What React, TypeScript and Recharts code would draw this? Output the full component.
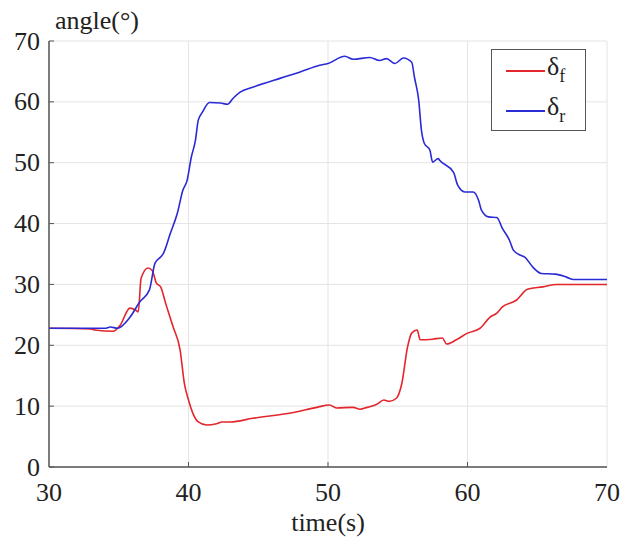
import { CartesianGrid, Legend, Line, LineChart, XAxis, YAxis } from 'recharts'

// δf (front wheel angle) samples
const fTime = [30, 33.0, 33.3, 34.6, 35.1, 35.8, 36.2, 36.4, 36.6, 37.1, 37.4, 37.7, 38.0, 38.4, 38.9, 39.4, 39.7, 40.0, 40.3, 40.7, 41.3, 42.0, 42.4, 43.0, 44.6, 47.1, 49.2, 50.1, 50.6, 51.8, 52.3, 52.8, 53.5, 54.0, 54.4, 54.9, 55.3, 55.7, 56.0, 56.4, 56.6, 57.5, 58.2, 58.5, 59.2, 60.0, 60.9, 61.6, 62.1, 62.5, 63.5, 64.3, 65.4, 66.4, 70]
const fAngle = [22.8, 22.7, 22.5, 22.3, 23.3, 26.1, 25.8, 25.5, 31.0, 32.7, 32.3, 30.2, 29.6, 26.6, 23.0, 19.2, 13.8, 11.0, 8.9, 7.4, 6.9, 7.1, 7.4, 7.4, 8.0, 8.8, 9.8, 10.2, 9.7, 9.8, 9.5, 9.8, 10.3, 11.0, 10.8, 11.3, 13.8, 19.7, 22.0, 22.5, 20.9, 21.0, 21.2, 20.2, 20.9, 22.0, 22.8, 24.6, 25.3, 26.3, 27.4, 29.2, 29.6, 30.0, 30.0]

// δr (rear wheel angle)
const rTime = [30, 34.0, 34.4, 34.9, 35.8, 36.5, 37.2, 37.6, 38.0, 38.2, 38.7, 39.2, 39.6, 39.9, 40.2, 40.5, 40.7, 41.0, 41.5, 42.3, 42.8, 43.2, 43.7, 44.6, 46.6, 48.0, 49.4, 50.0, 51.2, 51.8, 53.0, 53.7, 54.2, 54.8, 55.4, 56.0, 56.2, 56.5, 56.7, 56.9, 57.3, 57.5, 57.9, 58.0, 59.0, 59.3, 59.8, 60.4, 60.8, 61.0, 61.5, 62.1, 62.5, 63.0, 63.3, 63.8, 64.1, 64.7, 65.3, 66.3, 67.1, 67.6, 70]
const rAngle = [22.8, 22.8, 23.0, 22.8, 24.6, 27.1, 29.1, 33.5, 34.5, 35.1, 38.4, 41.7, 45.5, 47.1, 50.9, 53.7, 57.0, 58.3, 59.9, 59.8, 59.6, 60.6, 61.6, 62.4, 63.9, 64.9, 66.0, 66.3, 67.5, 67.0, 67.3, 66.8, 67.1, 66.3, 67.2, 66.5, 64.0, 60.3, 55.3, 53.2, 52.1, 50.1, 50.7, 50.4, 48.4, 46.3, 45.2, 45.2, 43.8, 42.2, 41.1, 41.0, 39.2, 37.3, 35.6, 34.8, 34.5, 32.8, 31.8, 31.7, 31.2, 30.8, 30.8]

const xTicks = [30, 40, 50, 60, 70]
const yTicks = [0, 10, 20, 30, 40, 50, 60, 70]

const FONT = "'Liberation Serif', 'Times New Roman', Tinos, 'DejaVu Serif', serif"
const RED = '#e3262b'
const BLUE = '#2a2ad6'
const AXIS = '#555'

const toRows = (ts: number[], vs: number[]) => ts.map((t, i) => ({ t, v: vs[i] }))

const YTick = ({ x, y, payload }: any) => (
  <g>
    <line x1={x} x2={x + 5} y1={y} y2={y} stroke={AXIS} strokeWidth={1} />
    <text x={x - 9} y={y} textAnchor="end" dominantBaseline="central" style={{ fontFamily: FONT }} fontSize={26} fill="#222">
      {payload.value}
    </text>
  </g>
)

const XTick = ({ x, y, payload }: any) => (
  <g>
    {payload.value !== 30 && payload.value !== 70 && (
      <line x1={x} x2={x} y1={y} y2={y - 5} stroke={AXIS} strokeWidth={1} />
    )}
    <text x={x} y={y + 34} textAnchor="middle" style={{ fontFamily: FONT }} fontSize={26} fill="#222">
      {payload.value}
    </text>
  </g>
)

const LegendBox = () => (
  <div
    style={{
      width: 93,
      height: 80,
      border: '1px solid #555',
      background: '#fff',
      fontFamily: FONT,
      fontSize: 26,
      color: '#222',
    }}
  >
    {[
      { name: 'f', color: RED },
      { name: 'r', color: BLUE },
    ].map((s) => (
      <div key={s.name} style={{ display: 'flex', alignItems: 'center', height: 38, marginTop: 2 }}>
        <div style={{ width: 39, height: 2, background: s.color, marginLeft: 14, marginRight: 2 }} />
        <span style={{ lineHeight: '26px' }}>
          δ<sub style={{ fontSize: 18, verticalAlign: -7 }}>{s.name}</sub>
        </span>
      </div>
    ))}
  </div>
)

export default function App() {
  return (
    <div style={{ position: 'absolute', left: 0, top: 0, width: 627, height: 548, background: '#fff', fontFamily: FONT }}>
      <LineChart width={627} height={548} margin={{ top: 41, right: 20, bottom: 0, left: 0 }} style={{ fontFamily: FONT }}>
        <CartesianGrid stroke="#e4e4e4" strokeWidth={1} />
        <XAxis
          dataKey="t"
          type="number"
          domain={[30, 70]}
          ticks={xTicks}
          height={81}
          tickLine={false}
          tickSize={0}
          tickMargin={0}
          tick={<XTick />}
          axisLine={{ stroke: AXIS, strokeWidth: 1.5 }}
          allowDuplicatedCategory={false}
          label={{ value: 'time(s)', position: 'insideBottom', offset: 17, style: { fontFamily: FONT }, fontSize: 26, fill: '#222' }}
        />
        <YAxis
          type="number"
          domain={[0, 70]}
          ticks={yTicks}
          width={49}
          tickLine={false}
          tickSize={0}
          tickMargin={0}
          tick={<YTick />}
          axisLine={{ stroke: AXIS, strokeWidth: 1.5 }}
          label={{
            content: ({ viewBox }: any) => (
              <text x={viewBox.x + viewBox.width + 6} y={viewBox.y - 12} style={{ fontFamily: FONT }} fontSize={26} fill="#222">
                angle(°)
              </text>
            ),
          }}
        />
        <Legend
          layout="vertical"
          align="center"
          verticalAlign="middle"
          content={<LegendBox />}
          wrapperStyle={{ position: 'absolute', top: 49, left: 491, width: 'auto' }}
        />
        <Line
          data={toRows(fTime, fAngle)}
          dataKey="v"
          name="δf"
          type="monotone"
          stroke={RED}
          strokeWidth={1.6}
          dot={false}
          isAnimationActive={false}
        />
        <Line
          data={toRows(rTime, rAngle)}
          dataKey="v"
          name="δr"
          type="monotone"
          stroke={BLUE}
          strokeWidth={1.6}
          dot={false}
          isAnimationActive={false}
        />
      </LineChart>
    </div>
  )
}
